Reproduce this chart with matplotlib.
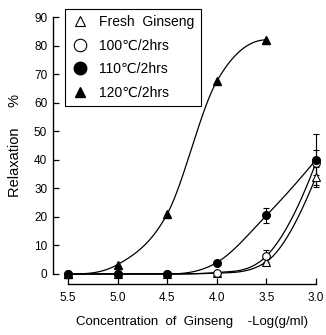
import numpy as np
import matplotlib
matplotlib.use('Agg')
import matplotlib.pyplot as plt
from matplotlib.lines import Line2D

# dados
conc = [5.5, 5.0, 4.5, 4.0, 3.5, 3.0]
fresh = [0, 0, 0, 0.3, 4.3, 34]
fresh_err = [0, 0, 0, 0, 0.8, 3.5]
c100 = [0, 0, 0, 0.5, 6.3, 39]
c100_err = [0, 0, 0, 0, 2.0, 4.5]
c110 = [0, 0, 0, 4, 20.5, 40]
c110_err = [0, 0, 0, 0, 2.7, 9.0]
conc120 = [5.5, 5.0, 4.5, 4.0, 3.5]
c120 = [0, 3.3, 21, 67.5, 82]

labels = ['Fresh  Ginseng', '100\u2103/2hrs', '110\u2103/2hrs', '120\u2103/2hrs']
yticks = [0, 10, 20, 30, 40, 50, 60, 70, 80, 90]
xticks = [5.5, 5.0, 4.5, 4.0, 3.5, 3.0]

plt.rcParams['font.family'] = ['Liberation Sans', 'DejaVu Sans']


def spline(x, y, xn):
    # hermite com inclinacao central + limite de Fritsch-Carlson (so para a linha)
    x = np.asarray(x, float)
    y = np.asarray(y, float)
    h = np.diff(x)
    d = np.diff(y) / h
    n = len(x)
    m = np.zeros(n)
    for k in range(1, n - 1):
        m[k] = (y[k + 1] - y[k - 1]) / (x[k + 1] - x[k - 1])
    s = ((2 * h[0] + h[1]) * d[0] - h[0] * d[1]) / (h[0] + h[1])
    m[0] = s if np.sign(s) == np.sign(d[0]) else 0.0
    s = ((2 * h[-1] + h[-2]) * d[-1] - h[-1] * d[-2]) / (h[-1] + h[-2])
    m[-1] = s if np.sign(s) == np.sign(d[-1]) else 0.0
    for k in range(n - 1):
        if d[k] == 0:
            m[k] = 0
            m[k + 1] = 0
            continue
        a = m[k] / d[k]
        b = m[k + 1] / d[k]
        if a < 0:
            m[k] = 0
            a = 0
        if b < 0:
            m[k + 1] = 0
            b = 0
        r = a * a + b * b
        if r > 9:
            tau = 3 / np.sqrt(r)
            m[k] = tau * a * d[k]
            m[k + 1] = tau * b * d[k]
    out = np.empty_like(xn)
    for i, v in enumerate(xn):
        k = min(max(np.searchsorted(x, v) - 1, 0), n - 2)
        t = (v - x[k]) / h[k]
        h00 = 2 * t**3 - 3 * t**2 + 1
        h10 = t**3 - 2 * t**2 + t
        h01 = -2 * t**3 + 3 * t**2
        h11 = t**3 - t**2
        out[i] = h00 * y[k] + h10 * h[k] * m[k] + h01 * y[k + 1] + h11 * h[k] * m[k + 1]
    return out


def smooth(xs, ys):
    t = -np.asarray(xs, float)
    tn = np.linspace(t[0], t[-1], 300)
    return -tn, spline(t, ys, tn)


fig = plt.figure(figsize=(3.26, 3.35), dpi=100)
ax = fig.add_axes([68 / 326, 1 - 274 / 335, 248 / 326, 257 / 335])

lw = 0.9
for xs, ys in [(conc, fresh), (conc, c100), (conc, c110), (conc120, c120)]:
    sx, sy = smooth(xs, ys)
    ax.plot(sx, sy, color='black', lw=lw, clip_on=False, zorder=2)

ebkw = dict(fmt='none', ecolor='black', elinewidth=0.8, capsize=2, capthick=0.8, zorder=3, clip_on=False)
ax.errorbar(conc[4:], fresh[4:], yerr=fresh_err[4:], **ebkw)
ax.errorbar(conc[4:], c100[4:], yerr=c100_err[4:], **ebkw)
ax.errorbar(conc[4:], c110[4:], yerr=c110_err[4:], **ebkw)

ms = 5.5
ax.plot(conc, fresh, '^', ms=ms, mfc='white', mec='black', mew=0.8, ls='none', clip_on=False, zorder=4)
ax.plot(conc, c100, 'o', ms=ms, mfc='white', mec='black', mew=0.8, ls='none', clip_on=False, zorder=4)
ax.plot(conc, c110, 'o', ms=ms, mfc='black', mec='black', ls='none', clip_on=False, zorder=5)
ax.plot(conc120, c120, '^', ms=ms, mfc='black', mec='black', ls='none', clip_on=False, zorder=5)

ax.set_xlim(5.5, 3.0)
ax.set_ylim(0, 90)
ax.set_xticks(xticks)
ax.set_xticklabels(['%.1f' % v for v in xticks])
ax.set_yticks(yticks)
ax.tick_params(direction='in', length=4, width=0.9, labelsize=8.5)
ax.tick_params(axis='x', pad=6)
ax.tick_params(axis='y', pad=4)

for s in ['top', 'right']:
    ax.spines[s].set_visible(False)
ax.spines['left'].set_position(('outward', 11))
ax.spines['bottom'].set_position(('outward', 7))
ax.spines['left'].set_bounds(0, 90)
ax.spines['bottom'].set_bounds(5.5, 3.0)
ax.spines['left'].set_linewidth(1.0)
ax.spines['bottom'].set_linewidth(1.0)

ax.set_ylabel('Relaxation     %', fontsize=10.5)
ax.yaxis.set_label_coords(-0.185, 0.5)
ax.set_xlabel('Concentration  of  Ginseng    -Log(g/ml)', fontsize=9.5)
ax.xaxis.set_label_coords(0.5, -0.165)

handles = [
    Line2D([], [], marker='^', ms=7.5, mfc='white', mec='black', mew=0.8, ls='none'),
    Line2D([], [], marker='o', ms=9, mfc='white', mec='black', mew=0.8, ls='none'),
    Line2D([], [], marker='o', ms=9, mfc='black', mec='black', ls='none'),
    Line2D([], [], marker='^', ms=7.5, mfc='black', mec='black', ls='none'),
]
leg = fig.legend(handles, labels, loc='upper left', bbox_to_anchor=(65 / 326, 1 - 9 / 335),
                 bbox_transform=fig.transFigure, borderaxespad=0, fontsize=10,
                 frameon=True, fancybox=False, framealpha=1, edgecolor='black',
                 labelspacing=0.68, handletextpad=0.8, handlelength=1.2, borderpad=0.45)
leg.get_frame().set_linewidth(0.8)

fig.savefig('out.png', dpi=100)
